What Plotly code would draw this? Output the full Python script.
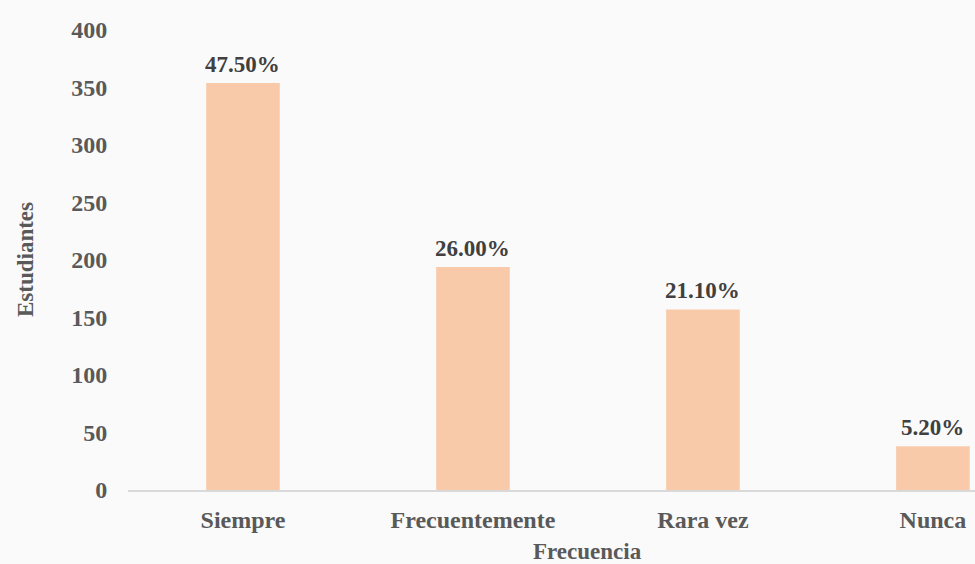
import plotly.graph_objects as go

categories = ["Siempre", "Frecuentemente", "Rara vez", "Nunca"]
students = [354, 194, 157, 38]
percent_labels = ["47.50%", "26.00%", "21.10%", "5.20%"]
y_ticks = [0, 50, 100, 150, 200, 250, 300, 350, 400]

font_family = "Liberation Serif, Times New Roman, serif"
tick_color = "#595959"
label_color = "#404040"

fig = go.Figure()
fig.add_trace(go.Bar(
    x=categories,
    y=students,
    marker=dict(color="#F8CAA9", line=dict(width=0)),
    width=0.32,
    hoverinfo="x+y",
))

for cat, val, lab in zip(categories, students, percent_labels):
    fig.add_annotation(
        x=cat, y=val, xref="x", yref="y",
        text=lab, showarrow=False, yanchor="bottom", yshift=4,
        font=dict(family=font_family, size=23, color=label_color, weight="bold"),
    )

# x-axis title (centered under the category span)
fig.add_annotation(
    x=1.5, xref="x", y=0, yref="paper",
    text="Frecuencia", showarrow=False,
    yshift=-47, yanchor="top",
    font=dict(family=font_family, size=23, color=tick_color, weight="bold"),
)

# y-axis title
fig.add_annotation(
    x=-0.1216, xref="paper", y=0.5, yref="paper",
    text="Estudiantes", showarrow=False, textangle=-90,
    xanchor="center", yanchor="middle",
    font=dict(family=font_family, size=23, color=tick_color, weight="bold"),
)

fig.update_layout(
    width=975, height=564,
    margin=dict(l=128, r=0, t=30, b=74),
    paper_bgcolor="#fafafa",
    plot_bgcolor="#fafafa",
    showlegend=False,
    xaxis=dict(
        type="category",
        range=[-0.5, 3.183],
        showgrid=False,
        showline=True, linecolor="#d9d9d9", linewidth=1.5,
        ticks="outside", ticklen=7, tickcolor="rgba(0,0,0,0)",
        tickfont=dict(family=font_family, size=24, color=tick_color, weight="bold"),
    ),
    yaxis=dict(
        range=[0, 400],
        tickvals=y_ticks,
        showgrid=False,
        zeroline=False,
        showline=False,
        ticks="outside", ticklen=15, tickcolor="rgba(0,0,0,0)",
        tickfont=dict(family=font_family, size=24, color=tick_color, weight="bold"),
    ),
)

fig.write_html(
    "out.html",
    config={"displayModeBar": False},
    post_script="document.body.style.margin='0';document.body.style.overflow='hidden';",
)
